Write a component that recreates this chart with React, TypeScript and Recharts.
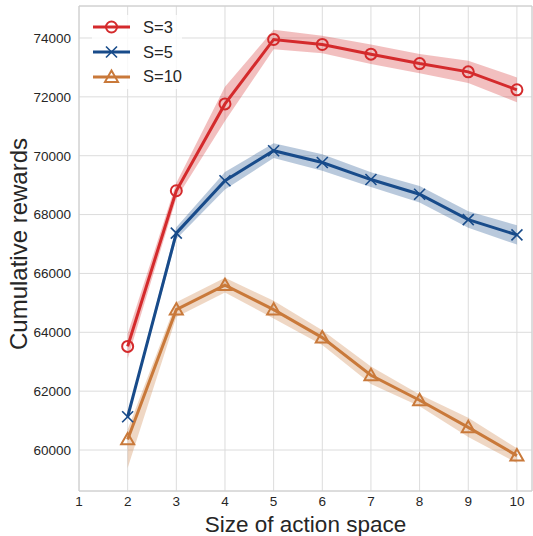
import React from 'react';
import {
  ComposedChart,
  Line,
  Area,
  XAxis,
  YAxis,
  CartesianGrid,
  ReferenceLine,
} from 'recharts';

const actionSizes = [2, 3, 4, 5, 6, 7, 8, 9, 10];

const s3Mean = [63520, 68810, 71760, 73950, 73780, 73450, 73130, 72850, 72240];
const s3Low = [63100, 68550, 71180, 73620, 73480, 73120, 72800, 72470, 71820];
const s3High = [63950, 69070, 72340, 74280, 74080, 73780, 73460, 73230, 72660];

const s5Mean = [61130, 67370, 69150, 70170, 69770, 69190, 68690, 67830, 67310];
const s5Low = [61050, 67170, 68850, 69920, 69490, 68940, 68410, 67550, 66980];
const s5High = [61210, 67570, 69450, 70420, 70050, 69440, 68970, 68110, 67640];

const s10Mean = [60360, 64770, 65600, 64770, 63820, 62540, 61690, 60770, 59810];
const s10Low = [59390, 64520, 65350, 64470, 63570, 62240, 61490, 60440, 59560];
const s10High = [60700, 65020, 65850, 65070, 64070, 62840, 61890, 61100, 60060];

const xTicks = [1, 2, 3, 4, 5, 6, 7, 8, 9, 10];
const yTicks = [60000, 62000, 64000, 66000, 68000, 70000, 72000, 74000];

const RED = '#d42a2c';
const BLUE = '#184b8a';
const ORANGE = '#c9793a';
const FONT = '"Liberation Sans", Arial, sans-serif';
const TEXT = '#262626';

const data = actionSizes.map((x, i) => ({
  x,
  s3: s3Mean[i],
  s3Band: [s3Low[i], s3High[i]],
  s5: s5Mean[i],
  s5Band: [s5Low[i], s5High[i]],
  s10: s10Mean[i],
  s10Band: [s10Low[i], s10High[i]],
}));

const Marker = ({ kind, cx, cy, color }: { kind: string; cx: number; cy: number; color: string }) => {
  if (kind === 'circle') {
    return <circle cx={cx} cy={cy} r={5.5} fill="none" stroke={color} strokeWidth={2} />;
  }
  if (kind === 'x') {
    const s = 5.5;
    return (
      <g stroke={color} strokeWidth={1.6}>
        <line x1={cx - s} y1={cy - s} x2={cx + s} y2={cy + s} />
        <line x1={cx - s} y1={cy + s} x2={cx + s} y2={cy - s} />
      </g>
    );
  }
  const s = 6.5;
  return (
    <polygon
      points={`${cx},${cy - s} ${cx - s},${cy + s * 0.75} ${cx + s},${cy + s * 0.75}`}
      fill="none"
      stroke={color}
      strokeWidth={2}
    />
  );
};

const makeDot = (kind: string, color: string) => (p: any) => (
  <g key={`${kind}-${p.index}`}>
    <Marker kind={kind} cx={p.cx} cy={p.cy} color={color} />
  </g>
);

const legendItems = [
  { name: 'S=3', color: RED, kind: 'circle' },
  { name: 'S=5', color: BLUE, kind: 'x' },
  { name: 'S=10', color: ORANGE, kind: 'triangle' },
];

const LegendBox = () => (
  <div style={{ position: 'absolute', left: 92, top: 15, fontFamily: FONT, fontSize: 16.5, color: TEXT, background: 'rgba(255,255,255,0.8)' }}>
    {legendItems.map((it) => (
      <div key={it.name} style={{ display: 'flex', alignItems: 'center', height: 24.7 }}>
        <svg width={40} height={20}>
          <line x1={1} y1={10} x2={38} y2={10} stroke={it.color} strokeWidth={3} />
          <Marker kind={it.kind} cx={19.5} cy={10} color={it.color} />
        </svg>
        <span style={{ marginLeft: 11 }}>{it.name}</span>
      </div>
    ))}
  </div>
);

const YLabel = () => (
  <text
    x={27}
    y={244}
    transform="rotate(-90 27 244)"
    textAnchor="middle"
    fontSize={24}
    fill={TEXT}
    fontFamily={FONT}
  >
    Cumulative rewards
  </text>
);

export default function App() {
  return (
    <div style={{ position: 'absolute', left: 0, top: 0, width: 533, height: 536, background: '#fff' }}>
      <ComposedChart
        width={533}
        height={536}
        data={data}
        margin={{ top: 6, right: 1, left: 0, bottom: 0 }}
      >
        <CartesianGrid stroke="#dcdcdc" strokeWidth={1} />
        <XAxis
          dataKey="x"
          type="number"
          domain={[1, 10.31]}
          ticks={xTicks}
          allowDataOverflow
          height={45}
          tickLine={false}
          tickMargin={-1}
          axisLine={{ stroke: '#cccccc' }}
          tick={{ fontSize: 13.5, fill: TEXT, fontFamily: FONT }}
          label={{
            value: 'Size of action space',
            position: 'insideBottom',
            offset: 4,
            style: { fontSize: 22.5, fill: TEXT, fontFamily: FONT },
          }}
        />
        <YAxis
          type="number"
          domain={[58607, 75087]}
          ticks={yTicks}
          allowDataOverflow
          width={79}
          tickLine={false}
          axisLine={{ stroke: '#cccccc' }}
          tick={{ fontSize: 13.5, fill: TEXT, fontFamily: FONT }}
          label={{ content: () => <YLabel /> }}
        />
        <ReferenceLine y={75087} stroke="#cccccc" />
        <ReferenceLine x={10.31} stroke="#cccccc" />
        <Area type="linear" dataKey="s3Band" stroke="none" fill={RED} fillOpacity={0.3} isAnimationActive={false} />
        <Area type="linear" dataKey="s5Band" stroke="none" fill={BLUE} fillOpacity={0.3} isAnimationActive={false} />
        <Area type="linear" dataKey="s10Band" stroke="none" fill={ORANGE} fillOpacity={0.3} isAnimationActive={false} />
        <Line type="linear" dataKey="s3" name="S=3" stroke={RED} strokeWidth={3} dot={makeDot('circle', RED)} activeDot={false} isAnimationActive={false} />
        <Line type="linear" dataKey="s5" name="S=5" stroke={BLUE} strokeWidth={3} dot={makeDot('x', BLUE)} activeDot={false} isAnimationActive={false} />
        <Line type="linear" dataKey="s10" name="S=10" stroke={ORANGE} strokeWidth={3} dot={makeDot('triangle', ORANGE)} activeDot={false} isAnimationActive={false} />
      </ComposedChart>
      <LegendBox />
    </div>
  );
}
